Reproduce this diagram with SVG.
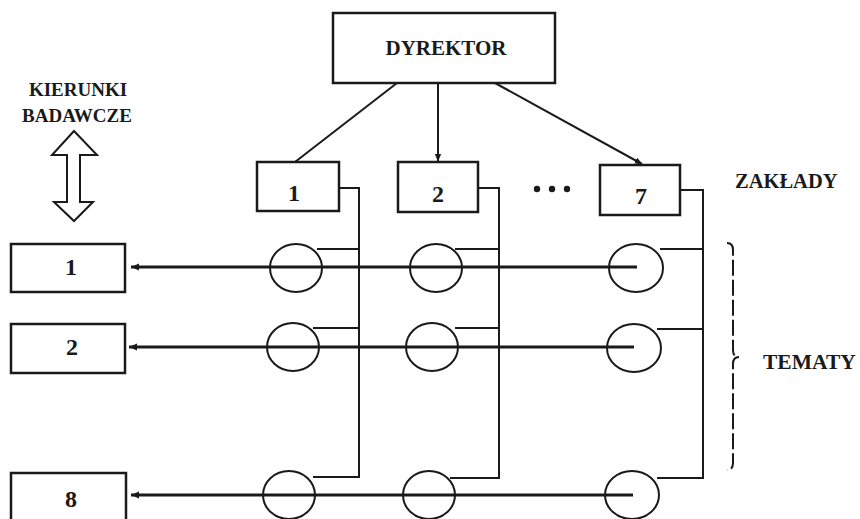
<svg xmlns="http://www.w3.org/2000/svg" width="860" height="519" viewBox="0 0 860 519">
<defs>
<style>
.box{fill:#fff;stroke:#1a1a1a;stroke-width:2.5}
.ln{fill:none;stroke:#1a1a1a;stroke-width:2}
.hl{fill:none;stroke:#1a1a1a;stroke-width:2.8}
.circ{fill:none;stroke:#1a1a1a;stroke-width:2}
.t{font-family:"Liberation Serif",serif;font-weight:bold;fill:#1a1a1a}
.lbl{font-size:19px}
.num{font-size:24px;text-anchor:middle}
</style>
<marker id="ah" viewBox="0 0 10 10" refX="9" refY="5" markerWidth="8" markerHeight="8" markerUnits="userSpaceOnUse" orient="auto">
<path d="M0,1 L10,5 L0,9 z" fill="#1a1a1a"/>
</marker>
<marker id="ahl" viewBox="0 0 10 10" refX="10" refY="5" markerWidth="11" markerHeight="8" markerUnits="userSpaceOnUse" orient="auto">
<path d="M0,0.5 L10,5 L0,9.5 z" fill="#1a1a1a"/>
</marker>
</defs>
<rect width="860" height="519" fill="#fff"/>

<g id="connectors">
<line class="ln" x1="397" y1="83" x2="295" y2="162"/>
<line class="ln" x1="438" y1="83" x2="438" y2="161" marker-end="url(#ah)"/>
<line class="ln" x1="495" y1="83" x2="642" y2="164" marker-end="url(#ah)"/>
<polyline class="ln" points="339,188 359,188 359,477 313,477"/>
<line class="ln" x1="317" y1="249" x2="359" y2="249"/>
<line class="ln" x1="313" y1="328" x2="359" y2="328"/>
<polyline class="ln" points="478,188 499,188 499,478 450,478"/>
<line class="ln" x1="455" y1="249" x2="499" y2="249"/>
<line class="ln" x1="455" y1="328" x2="499" y2="328"/>
<polyline class="ln" points="680,190 703,190 703,478 657,478"/>
<line class="ln" x1="660" y1="249" x2="703" y2="249"/>
<line class="ln" x1="657" y1="329" x2="703" y2="329"/>
<line class="hl" x1="637" y1="267" x2="131" y2="267" marker-end="url(#ahl)"/>
<line class="hl" x1="634" y1="347" x2="129" y2="347" marker-end="url(#ahl)"/>
<line class="hl" x1="633" y1="495" x2="131" y2="495" marker-end="url(#ahl)"/>
</g>

<g id="dyrektor">
<rect class="box" x="333" y="13" width="222" height="70"/>
<text class="t" x="446" y="55" text-anchor="middle" font-size="21">DYREKTOR</text>
</g>

<g id="zaklad-1">
<rect class="box" x="257" y="162" width="82" height="49"/>
<text class="t num" x="294" y="201">1</text>
</g>
<g id="zaklad-2">
<rect class="box" x="398" y="162" width="80" height="50"/>
<text class="t num" x="438" y="202">2</text>
</g>
<g id="dots">
<circle cx="537" cy="189" r="3.2" fill="#1a1a1a"/>
<circle cx="552" cy="189" r="3.2" fill="#1a1a1a"/>
<circle cx="567" cy="189" r="3.2" fill="#1a1a1a"/>
</g>
<g id="zaklad-7">
<rect class="box" x="600" y="165" width="80" height="50"/>
<text class="t num" x="641" y="204">7</text>
</g>
<g id="zaklady-label">
<text class="t" x="735" y="188" font-size="20.5">ZAKŁADY</text>
</g>

<g id="kierunki-label">
<text class="t lbl" x="78" y="96" text-anchor="middle">KIERUNKI</text>
<text class="t lbl" x="77" y="122" text-anchor="middle">BADAWCZE</text>
<path class="ln" d="M74,131 L52,155 L67,155 L67,202 L54,202 L74,221 L93,202 L80,202 L80,155 L97,155 Z" stroke-width="2.2" stroke-linejoin="miter"/>
</g>

<g id="kierunek-1">
<rect class="box" x="11" y="244" width="114" height="48"/>
<text class="t num" x="71" y="275">1</text>
</g>
<g id="kierunek-2">
<rect class="box" x="11" y="324" width="114" height="49"/>
<text class="t num" x="72" y="355">2</text>
</g>
<g id="kierunek-8">
<rect class="box" x="11" y="473" width="115" height="50"/>
<text class="t num" x="71" y="507">8</text>
</g>

<g id="temat-1-1"><ellipse class="circ" cx="296" cy="268" rx="26" ry="24"/></g>
<g id="temat-1-2"><ellipse class="circ" cx="436" cy="268" rx="26" ry="24"/></g>
<g id="temat-1-7"><ellipse class="circ" cx="636" cy="268" rx="27" ry="24"/></g>
<g id="temat-2-1"><ellipse class="circ" cx="293" cy="347" rx="26" ry="24"/></g>
<g id="temat-2-2"><ellipse class="circ" cx="432" cy="347" rx="26" ry="24"/></g>
<g id="temat-2-7"><ellipse class="circ" cx="634" cy="348" rx="27" ry="24"/></g>
<g id="temat-8-1"><ellipse class="circ" cx="289" cy="495" rx="26" ry="24"/></g>
<g id="temat-8-2"><ellipse class="circ" cx="429" cy="495" rx="26" ry="24"/></g>
<g id="temat-8-7"><ellipse class="circ" cx="632" cy="495" rx="27" ry="24"/></g>

<g id="tematy">
<path class="ln" d="M727,243 Q733,243 733,250 L733,350 Q733,357 739,357 Q733,357 733,364 L733,463 Q733,470 727,470" stroke-dasharray="16 4"/>
<text class="t" x="763" y="369" font-size="21.5">TEMATY</text>
</g>
</svg>
